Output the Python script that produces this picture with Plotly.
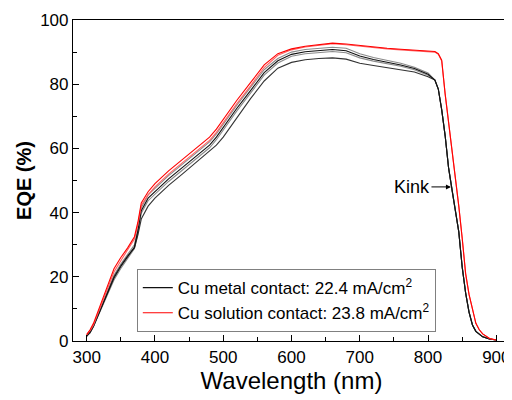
import plotly.graph_objects as go

wavelength = [300, 305, 310, 320, 330, 340, 350, 360, 370, 375, 380, 390, 400, 420, 440, 460, 480, 490, 500,
              520, 540, 560, 580, 600, 620, 640, 660, 680, 700, 720, 740, 760, 780, 800, 810, 815, 820,
              825, 830, 835, 840, 845, 850, 855, 860, 865, 870, 875, 880, 890, 900]

red_1 = [2, 3.5, 5.5, 11, 17, 22.5, 26, 29, 32.5, 37, 43, 46.5, 49, 53, 56.5, 60, 63.5, 66, 69,
         75, 80.5, 86, 89.5, 91, 91.8, 92.3, 92.8, 92.5, 92.0, 91.5, 91.2, 90.9, 90.7, 90.5, 90.2, 89.5, 87.5,
         77, 68, 60, 52, 42, 32, 21, 14.5, 9.5, 5.5, 3.5, 2.2, 0.8, 0.3]
red_2 = [2, 3.2, 5, 10.3, 16, 21.5, 25, 28.2, 31.8, 36.2, 42.2, 45.5, 48, 52, 55.5, 59, 62.5, 65, 68,
         74, 79.5, 85.2, 89, 90.7, 91.6, 92.1, 92.6, 92.3, 91.8, 91.3, 91.0, 90.7, 90.5, 90.3, 90, 89.3, 87.2,
         77, 68, 60, 52, 42, 32, 21, 14.5, 9.5, 5.5, 3.5, 2.2, 0.8, 0.3]

tail_black = [81.3, 78.5, 72, 64, 54, 47, 41, 34, 23, 15, 9, 5, 3, 2, 1.3, 0.6, 0.3]

black_1 = [1.5, 3, 5, 10, 15.5, 20.5, 24, 27, 30, 35, 41.5, 45.5, 47.5, 51.5, 55, 58.5, 62, 64.5, 67.5,
           73.5, 79, 84.5, 88, 90, 90.8, 91.2, 91.5, 91.2, 89.5, 88.3, 87.5, 86.5, 85.3, 83.5] + tail_black
black_2 = [1.5, 2.8, 4.7, 9.6, 14.8, 19.6, 23.2, 26.3, 29.3, 34.3, 40.6, 44.5, 46.5, 50.5, 54, 57.5, 61, 63.5, 66.5,
           72.5, 78, 83.6, 87.3, 89.3, 90.1, 90.5, 90.8, 90.4, 88.8, 87.7, 86.9, 86, 84.9, 83.1] + tail_black
black_3 = [1.5, 2.7, 4.5, 9.3, 14.3, 19, 22.6, 25.8, 28.8, 33.6, 39.8, 43.7, 45.7, 49.7, 53.2, 56.7, 60.2, 62.7, 65.7,
           71.7, 77.2, 82.8, 86.6, 88.7, 89.5, 89.9, 90.2, 89.8, 88.2, 87.2, 86.4, 85.6, 84.5, 82.8] + tail_black
black_4 = [1.5, 2.5, 4.5, 9.5, 15, 20, 23.5, 26.5, 29, 33, 38, 42, 44.5, 48.5, 52, 55.5, 59, 61, 63.5,
           69.5, 75.5, 81, 85, 86.8, 87.6, 88, 88.2, 87.8, 86.5, 85.8, 85.2, 84.6, 83.8, 82.3] + tail_black

legend_labels = ["Cu metal contact: 22.4 mA/cm<sup>2</sup>", "Cu solution contact: 23.8 mA/cm<sup>2</sup>"]

x_ticks = [300, 400, 500, 600, 700, 800, 900]
y_ticks = [0, 20, 40, 60, 80, 100]

FONT = "Arial, Liberation Sans, sans-serif"

fig = go.Figure()
series = [
    (black_1, "#8a8a8a", None),
    (black_3, "#8a8a8a", None),
    (black_4, "#333333", None),
    (black_2, "#111111", legend_labels[0]),
    (red_2, "#ff6060", None),
    (red_1, "#ff0000", legend_labels[1]),
]
for ys, col, name in series:
    fig.add_trace(go.Scatter(
        x=wavelength, y=ys, mode="lines",
        line=dict(color=col, width=1.1),
        name=name if name else "series",
        showlegend=name is not None,
    ))

fig.add_annotation(
    x=835, y=48, xref="x", yref="y", text="Kink",
    showarrow=True, arrowhead=2, arrowsize=1, arrowwidth=1, arrowcolor="black",
    ax=-40, ay=0, font=dict(family=FONT, size=18, color="black"), standoff=1,
)

fig.update_layout(
    width=504, height=392,
    margin=dict(l=65, r=2, t=12, b=59),
    paper_bgcolor="white", plot_bgcolor="white",
    font=dict(family=FONT, color="black"),
    legend=dict(
        x=0.146, y=0.224, xanchor="left", yanchor="top",
        bgcolor="white", bordercolor="#808080", borderwidth=1,
        font=dict(family=FONT, size=17, color="black"),
        tracegroupgap=0, itemwidth=30,
        traceorder="normal",
    ),
    xaxis=dict(
        range=[280, 920], tickvals=x_ticks, ticks="inside", ticklen=6, tickwidth=1, tickcolor="black",
        minor=dict(dtick=50, tick0=300, ticks="inside", ticklen=4, tickcolor="black"),
        showline=True, linecolor="black", linewidth=1.2, mirror=True, showgrid=False, zeroline=False,
        tickfont=dict(family=FONT, size=17, color="black"),
        title=dict(text="Wavelength (nm)", font=dict(family=FONT, size=24, color="black"), standoff=6),
    ),
    yaxis=dict(
        range=[0, 100], tickvals=y_ticks, ticks="inside", ticklen=6, tickwidth=1, tickcolor="black",
        minor=dict(dtick=10, tick0=0, ticks="inside", ticklen=4, tickcolor="black"),
        showline=True, linecolor="black", linewidth=1.2, mirror=True, showgrid=False, zeroline=False,
        tickfont=dict(family=FONT, size=17, color="black"),
        title=dict(text="<b>EQE (%)</b>", font=dict(family=FONT, size=20, color="black"), standoff=3),
    ),
)

fig.write_html("out.html")
